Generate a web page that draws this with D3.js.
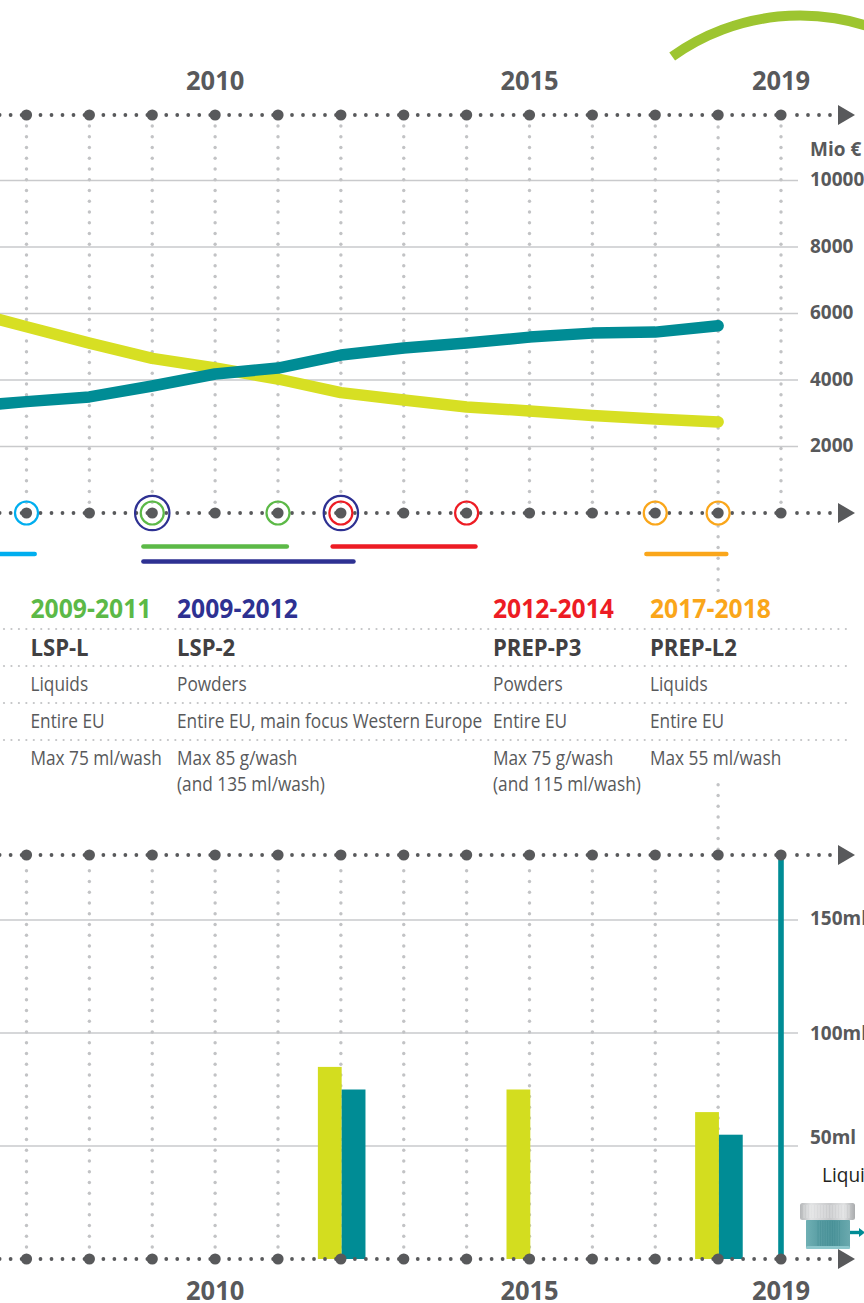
<!DOCTYPE html>
<html><head><meta charset="utf-8">
<script src="https://cdnjs.cloudflare.com/ajax/libs/d3/7.8.5/d3.min.js"></script>
<style>html,body{margin:0;padding:0;background:#fff;overflow:hidden}svg{display:block}</style>
</head><body><svg id="c" width="864" height="1303"></svg>
<script>
const years=[2006,2007,2008,2009,2010,2011,2012,2013,2014,2015,2016,2017,2018,2019];
const yearLabels=[2010,2015,2019];
const powderSales=[6100,5600,5110,4650,4360,4030,3620,3400,3190,3070,2930,2830,2740];
const liquidSales=[3190,3350,3490,3820,4180,4360,4750,4960,5110,5290,5410,5440,5630];
const salesTicks=[2000,4000,6000,8000,10000];
const doseTicks=[50,100,150];
const doseYears=[2012,2015,2018];
const powderDose=[85,75,65];
const liquidDose=[75,null,55];
const ringColors={cyan:"#00aeef",green:"#5cb947",navy:"#2e3192",red:"#ed1c24",orange:"#faa61a"};
const smallRings=[[2007,"cyan"],[2009,"green"],[2011,"green"],[2012,"red"],[2014,"red"],[2017,"orange"],[2018,"orange"]];
const bigRings=[[2009,"navy"],[2012,"navy"]];
const periods=[[2006.1,2007.13,"cyan",0],[2008.86,2011.14,"green",-1],[2008.86,2012.2,"navy",1],[2011.87,2014.14,"red",-1],[2016.86,2018.13,"orange",0]];
const headers=[["2009-2011","green",0],["2009-2012","navy",1],["2012-2014","red",2],["2017-2018","orange",3]];
const names=["LSP-L","LSP-2","PREP-P3","PREP-L2"];
const forms=["Liquids","Powders","Powders","Liquids"];
const regions=["Entire EU","Entire EU, main focus Western Europe","Entire EU","Entire EU"];
const doses=["Max 75 ml/wash","Max 85 g/wash","Max 75 g/wash","Max 55 ml/wash"];
const doses2=["","(and 135 ml/wash)","(and 115 ml/wash)",""];

const grey="#58595b", dotGrey="#c2c3c5", gridGrey="#c9cacc";
const x=d3.scaleLinear().domain([2007,2019]).range([26.5,781]);
const ySales=d3.scaleLinear().domain([0,10000]).range([513,180.5]);
const yDose=d3.scaleLinear().domain([0,150]).range([1259,920]);
const svg=d3.select("#c");
const columnX=[30.5,177,493,650];
const axisYs=[115,513,855,1259];

function label(px,py,t,size,weight,fill,stretch,anchor){
  return svg.append("text").attr("transform",`translate(${px},${py}) scale(${stretch},1)`)
   .attr("font-family","'Open Sans',sans-serif").attr("font-size",size).attr("font-weight",weight)
   .attr("fill",fill).attr("text-anchor",anchor||"start").text(t);
}
// green arc
svg.append("path").attr("transform","translate(800,235.5)")
 .attr("d",d3.arc().innerRadius(215).outerRadius(225).startAngle(-0.62).endAngle(0.42)())
 .attr("fill","#9dc530");

// grid
svg.append("g").selectAll("line").data(salesTicks).join("line")
 .attr("x1",0).attr("x2",798).attr("y1",d=>ySales(d)).attr("y2",d=>ySales(d)).attr("stroke",gridGrey).attr("stroke-width",1.3);
svg.append("g").selectAll("line").data(doseTicks).join("line")
 .attr("x1",0).attr("x2",798).attr("y1",d=>yDose(d)).attr("y2",d=>yDose(d)).attr("stroke",gridGrey).attr("stroke-width",1.3);

// vertical dotted columns
const colYears=years.slice(1);
function vdots(yr,from,to){
  const g=svg.append("g").attr("fill",dotGrey);
  g.selectAll("circle").data(d3.range(from,to,10.75)).join("circle").attr("cx",x(yr)).attr("cy",d=>d).attr("r",1.7);
}
colYears.forEach(yr=>{
  const shift=yr===2018?1:0;
  vdots(yr,126+shift,508);
  vdots(yr,870.7,1259);
});
vdots(2018,526,592);
vdots(2018,784.7,851);

// horizontal dotted table rules
[629,666,703,740].forEach(yy=>{
  svg.append("g").attr("fill",dotGrey).selectAll("circle").data(d3.range(4,852,7.45)).join("circle")
   .attr("cx",d=>d).attr("cy",yy).attr("r",1.1);
});

// lines
const line=d3.line().x((d,i)=>x(years[i])).curve(d3.curveLinear);
svg.append("path").attr("d",line.y(d=>ySales(d))(powderSales)).attr("fill","none").attr("stroke","#d7df23").attr("stroke-width",11.5).attr("stroke-linecap","round").attr("stroke-linejoin","round");
svg.append("path").attr("d",line.y(d=>ySales(d))(liquidSales)).attr("fill","none").attr("stroke","#008c95").attr("stroke-width",11.5).attr("stroke-linecap","round").attr("stroke-linejoin","round");

// bars
const BAR_W=23.8;
svg.append("g").selectAll("rect").data(powderDose).join("rect")
 .attr("x",(d,i)=>x(doseYears[i])-23).attr("width",BAR_W).attr("y",d=>yDose(d)).attr("height",d=>yDose(0)-yDose(d)).attr("fill","#d3dd1f");
svg.append("g").selectAll("rect").data(liquidDose.map((d,i)=>[d,i]).filter(d=>d[0]!=null)).join("rect")
 .attr("x",d=>x(doseYears[d[1]])+0.8).attr("width",BAR_W).attr("y",d=>yDose(d[0])).attr("height",d=>yDose(0)-yDose(d[0])).attr("fill","#008c95");
// 2019 marker
svg.append("line").attr("x1",x(2019)).attr("x2",x(2019)).attr("y1",855).attr("y2",1259).attr("stroke","#008c95").attr("stroke-width",5.6);

// horizontal axes
axisYs.forEach(ay=>{
  const g=svg.append("g").attr("fill",grey);
  const small=[];
  years.slice(0,-1).forEach(yr=>[14,25,36,47,58].forEach(o=>small.push(x(yr)+o)));
  [16,27,38,49].forEach(o=>small.push(x(2019)+o));
  g.selectAll("circle.s").data(small).join("circle").attr("class","s").attr("cx",d=>d).attr("cy",ay).attr("r",1.9);
  g.selectAll("circle.b").data(colYears).join("circle").attr("class","b").attr("cx",d=>x(d)).attr("cy",ay).attr("r",5.6);
  g.append("path").attr("d",d3.line()([[838,ay-10],[855,ay],[838,ay+10]])+"Z");
});

// rings
svg.append("g").selectAll("circle").data(smallRings).join("circle")
 .attr("cx",d=>x(d[0])).attr("cy",513).attr("r",11.5).attr("fill","none").attr("stroke",d=>ringColors[d[1]]).attr("stroke-width",2.2);
svg.append("g").selectAll("circle").data(bigRings).join("circle")
 .attr("cx",d=>x(d[0])).attr("cy",513).attr("r",17.2).attr("fill","none").attr("stroke",d=>ringColors[d[1]]).attr("stroke-width",2.2);

// period bars
svg.append("g").selectAll("line").data(periods).join("line")
 .attr("x1",d=>x(d[0])).attr("x2",d=>x(d[1]))
 .attr("y1",d=>554+d[3]*7.5).attr("y2",d=>554+d[3]*7.5)
 .attr("stroke",d=>ringColors[d[2]]).attr("stroke-width",4.6).attr("stroke-linecap","round");

// year labels
yearLabels.forEach(yr=>{
  label(x(yr),90,yr,26,700,grey,0.98,"middle");
  label(x(yr),1300,yr,26,700,grey,0.98,"middle");
});
// y labels
label(810,155.5,"Mio €",20,700,grey,0.95);
salesTicks.forEach(t=>label(810,ySales(t)+5.5,t,20,700,grey,0.95));
const doseLabelOffset={50:-2,100:7,150:4.5};
doseTicks.forEach(t=>label(810,yDose(t)+doseLabelOffset[t],t+"ml",20,700,grey,0.95));
label(822,1182,"Liquids",20.5,400,"#231f20",0.93);

// table
headers.forEach(h=>label(columnX[h[2]],618,h[0],26,700,ringColors[h[1]],0.95));
names.forEach((t,i)=>label(columnX[i],656,t,23.5,700,"#414042",0.94));
const STRETCH=0.842;
forms.forEach((t,i)=>label(columnX[i],691,t,20.5,400,grey,STRETCH));
regions.forEach((t,i)=>label(columnX[i],728,t,20.5,400,grey,STRETCH));
doses.forEach((t,i)=>label(columnX[i],765,t,20.5,400,grey,STRETCH));
doses2.forEach((t,i)=>{if(t)label(columnX[i],791,t,20.5,400,grey,STRETCH);});

// liquid dosing cap icon
const defs=svg.append("defs");
const g1=defs.append("linearGradient").attr("id","capG");
[[0,"#b5b7b9"],[.2,"#e2e3e4"],[.55,"#c8c9cb"],[.8,"#e0e1e2"],[1,"#a9abad"]].forEach(s=>g1.append("stop").attr("offset",s[0]).attr("stop-color",s[1]));
const g2=defs.append("linearGradient").attr("id","jarG");
[[0,"#6fb0b4"],[.3,"#5a9ea4"],[.6,"#4f969c"],[1,"#6aa9ae"]].forEach(s=>g2.append("stop").attr("offset",s[0]).attr("stop-color",s[1]));
const ic=svg.append("g");
ic.append("rect").attr("x",806).attr("y",1219).attr("width",44).attr("height",30).attr("rx",2).attr("fill","url(#jarG)");
ic.append("rect").attr("x",806).attr("y",1246).attr("width",44).attr("height",3).attr("rx",1.5).attr("fill","#8cc6cb");
ic.selectAll("line.j").data(d3.range(818,842,2.4)).join("line").attr("class","j").attr("x1",d=>d).attr("x2",d=>d).attr("y1",1221).attr("y2",1246).attr("stroke","#3f8a91").attr("stroke-width",.7).attr("opacity",.6);
ic.append("rect").attr("x",800).attr("y",1203).attr("width",55).attr("height",17).attr("rx",2.5).attr("fill","url(#capG)");
ic.selectAll("line.c").data(d3.range(804,852,3)).join("line").attr("class","c").attr("x1",d=>d).attr("x2",d=>d).attr("y1",1205).attr("y2",1218).attr("stroke","#fff").attr("stroke-width",.8).attr("opacity",.45);
ic.append("line").attr("x1",850).attr("x2",861).attr("y1",1232.5).attr("y2",1232.5).attr("stroke","#008c95").attr("stroke-width",3.4);
ic.append("path").attr("d",d3.line()([[859,1228],[865,1232.5],[859,1237]])+"Z").attr("fill","#008c95");
</script></body></html>
